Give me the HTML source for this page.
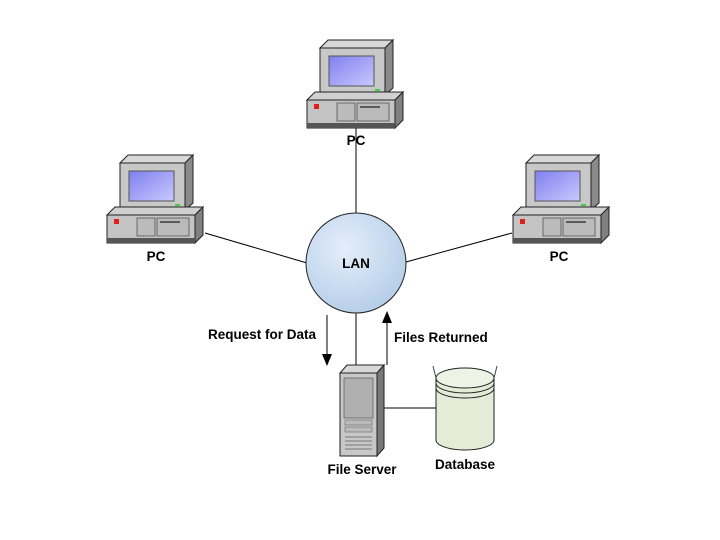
<!DOCTYPE html>
<html><head><meta charset="utf-8"><style>html,body{margin:0;padding:0;background:#fff}svg{display:block}text{font-family:"Liberation Sans",Arial,sans-serif;font-weight:bold;font-size:13.5px;fill:#000}</style></head><body>
<svg width="720" height="540" viewBox="0 0 720 540" xmlns="http://www.w3.org/2000/svg">
<defs>
<radialGradient id="lan" cx="0.4" cy="0.35" r="0.7"><stop offset="0" stop-color="#e4eefa"/><stop offset="1" stop-color="#b4cde8"/></radialGradient>
<linearGradient id="scr" x1="0" y1="0" x2="1" y2="1"><stop offset="0" stop-color="#8080f0"/><stop offset="1" stop-color="#c8c8ff"/></linearGradient>
<g id="pc">
<polygon points="320,48 328,40 393,40 385,48" fill="#d8d8d8" stroke="#222" stroke-width="1"/>
<polygon points="385,48 393,40 393,88 385,95" fill="#8a8a8a" stroke="#222" stroke-width="1"/>
<rect x="320" y="48" width="65" height="47" fill="#c8c8c8" stroke="#222" stroke-width="1"/>
<rect x="329" y="56" width="45" height="30" fill="url(#scr)" stroke="#555" stroke-width="1"/>
<rect x="375" y="89" width="5" height="2" fill="#4c4"/>
<polygon points="307,100 315,92 403,92 395,100" fill="#d0d0d0" stroke="#222" stroke-width="1"/>
<polygon points="395,100 403,92 403,120 395,128" fill="#808080" stroke="#222" stroke-width="1"/>
<rect x="307" y="100" width="88" height="28" fill="#c4c4c4" stroke="#222" stroke-width="1"/>
<rect x="307" y="123" width="88" height="5" fill="#555"/>
<rect x="314" y="104" width="5" height="5" fill="#e02020"/>
<rect x="337" y="103" width="18" height="18" fill="#bbb" stroke="#444" stroke-width="0.7"/>
<rect x="357" y="103" width="32" height="18" fill="#bbb" stroke="#444" stroke-width="0.7"/>
<line x1="360" y1="107" x2="380" y2="107" stroke="#222" stroke-width="1.2"/>
</g>
</defs>
<g stroke="#000" stroke-width="1" fill="none">
<line x1="356" y1="128" x2="356" y2="214"/>
<line x1="205" y1="233" x2="307" y2="263"/>
<line x1="406" y1="262" x2="512" y2="233"/>
<line x1="356" y1="312" x2="356" y2="368"/>
<line x1="383" y1="408" x2="437" y2="408"/>
<line x1="327" y1="315" x2="327" y2="355"/>
<line x1="387" y1="365" x2="387" y2="322"/>
</g>
<polygon points="322,354 332,354 327,366" fill="#000"/>
<polygon points="382,323 392,323 387,311" fill="#000"/>
<use href="#pc"/>
<use href="#pc" transform="translate(-200,115)"/>
<use href="#pc" transform="translate(206,115)"/>
<circle cx="356" cy="263" r="50" fill="url(#lan)" stroke="#222" stroke-width="1"/>
<polygon points="340,373 347,365 384,365 377,373" fill="#d8d8d8" stroke="#222"/>
<polygon points="377,373 384,365 384,448 377,456" fill="#777" stroke="#222"/>
<rect x="340" y="373" width="37" height="83" fill="#c8c8c8" stroke="#222"/>
<rect x="344" y="378" width="29" height="40" fill="#b0b0b0" stroke="#555" stroke-width="0.7"/>
<rect x="345" y="420" width="27" height="5" fill="#bbb" stroke="#666" stroke-width="0.6"/>
<rect x="345" y="427" width="27" height="5" fill="#bbb" stroke="#666" stroke-width="0.6"/>
<g stroke="#777" stroke-width="1"><line x1="345" y1="437" x2="372" y2="437"/><line x1="345" y1="441" x2="372" y2="441"/><line x1="345" y1="445" x2="372" y2="445"/><line x1="345" y1="449" x2="372" y2="449"/></g>
<path d="M436,378 L436,440 A29,10 0 0 0 494,440 L494,378" fill="#e4ecd8" stroke="#222"/>
<ellipse cx="465" cy="378" rx="29" ry="10" fill="#eef3e6" stroke="#222"/>
<path d="M436,383 A29,10 0 0 0 494,383 M436,388 A29,10 0 0 0 494,388" fill="none" stroke="#222"/>
<path d="M436,378 L433,366 M494,378 L497,366" stroke="#444" fill="none"/>
<text x="356" y="145" text-anchor="middle">PC</text>
<text x="156" y="261" text-anchor="middle">PC</text>
<text x="559" y="261" text-anchor="middle">PC</text>
<text x="356" y="268" text-anchor="middle">LAN</text>
<text x="316" y="339" text-anchor="end">Request for Data</text>
<text x="394" y="342">Files Returned</text>
<text x="362" y="474" text-anchor="middle">File Server</text>
<text x="465" y="469" text-anchor="middle">Database</text>
</svg>
</body></html>
